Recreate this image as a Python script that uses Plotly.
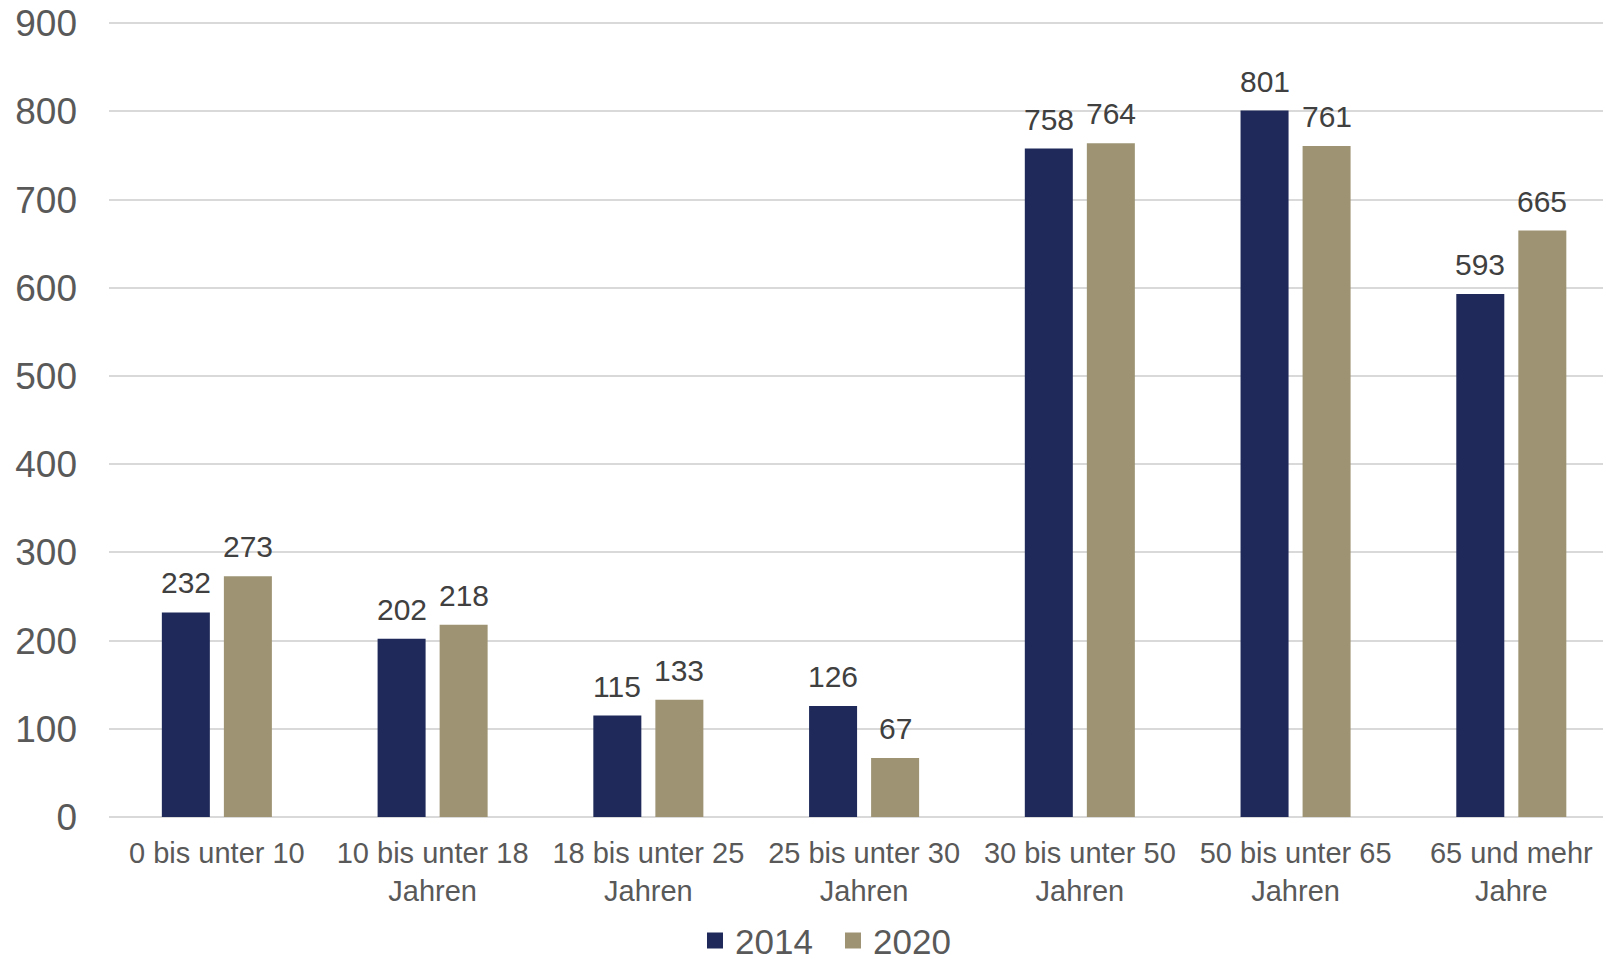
import plotly.graph_objects as go

categories = ["0 bis unter 10", "10 bis unter 18<br>Jahren", "18 bis unter 25<br>Jahren",
              "25 bis unter 30<br>Jahren", "30 bis unter 50<br>Jahren", "50 bis unter 65<br>Jahren",
              "65 und mehr<br>Jahre"]
values_2014 = [232, 202, 115, 126, 758, 801, 593]
values_2020 = [273, 218, 133, 67, 764, 761, 665]
series_names = ["2014", "2020"]
colors = ["#1F2A5A", "#9E9474"]
y_ticks = [0, 100, 200, 300, 400, 500, 600, 700, 800, 900]

FONT = "Liberation Sans, Arial, sans-serif"

fig = go.Figure()
for name, vals, col in zip(series_names, [values_2014, values_2020], colors):
    fig.add_trace(go.Bar(x=categories, y=vals, name=name, showlegend=False,
                         marker=dict(color=col, line=dict(width=0))))
# legend entries with larger square swatches
for name, col in zip(series_names, colors):
    fig.add_trace(go.Scatter(x=[None], y=[None], name=name, mode="markers",
                             marker=dict(symbol="square", size=19, color=col)))

annotations = []
for vals, shift in [(values_2014, -31), (values_2020, 31)]:
    for c, v in zip(categories, vals):
        annotations.append(dict(x=c, y=v, xref="x", yref="y", text=str(v), showarrow=False,
                                xshift=shift, yshift=11, yanchor="bottom",
                                font=dict(family=FONT, size=30, color="#404040")))

fig.update_layout(
    width=1603, height=961,
    margin=dict(l=109, r=0, t=18, b=144, autoexpand=False),
    paper_bgcolor="white", plot_bgcolor="white",
    barmode="group", bargap=0.425, bargroupgap=0.226,
    font=dict(family=FONT, color="#595959"),
    showlegend=True,
    legend=dict(orientation="h", x=0.4846, xanchor="center", y=-0.118, yanchor="top",
                font=dict(family=FONT, size=35, color="#595959"),
                entrywidth=93, entrywidthmode="pixels",
                traceorder="normal", itemclick=False),
    annotations=annotations,
    xaxis=dict(range=[-0.5, 6.425], showgrid=False, showline=False, zeroline=False,
               tickfont=dict(family=FONT, size=29, color="#595959"), ticks="",
               ticklabelstandoff=16),
    yaxis=dict(range=[0, 906], tickvals=y_ticks, showgrid=True, gridcolor="#D9D9D9", gridwidth=2,
               zeroline=True, zerolinecolor="#D9D9D9", zerolinewidth=2, showline=False,
               tickfont=dict(family=FONT, size=37, color="#595959"), ticks="",
               ticklabelstandoff=31),
)

fig.write_html("out.html")
